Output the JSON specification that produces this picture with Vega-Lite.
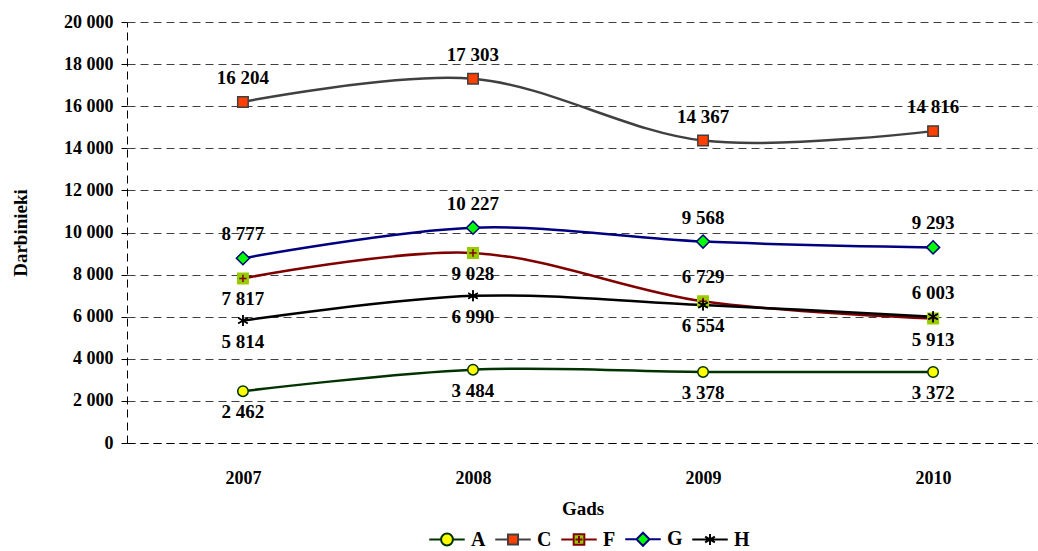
{
  "$schema": "https://vega.github.io/schema/vega-lite/v6.json",
  "width": 911,
  "height": 421,
  "autosize": {"type": "none"},
  "padding": {"left": 127, "top": 22, "right": 0, "bottom": 108},
  "config": {
    "locale": {"number": {"decimal": ",", "thousands": " ", "grouping": [3], "currency": ["", ""]}},
    "view": {"stroke": null},
    "font": "Liberation Serif",
    "background": "#ffffff"
  },
  "data": {
    "values": [
      {"year": "2007", "series": "A", "value": 2462},
      {"year": "2008", "series": "A", "value": 3484},
      {"year": "2009", "series": "A", "value": 3378},
      {"year": "2010", "series": "A", "value": 3372},
      {"year": "2007", "series": "C", "value": 16204},
      {"year": "2008", "series": "C", "value": 17303},
      {"year": "2009", "series": "C", "value": 14367},
      {"year": "2010", "series": "C", "value": 14816},
      {"year": "2007", "series": "F", "value": 7817},
      {"year": "2008", "series": "F", "value": 9028},
      {"year": "2009", "series": "F", "value": 6729},
      {"year": "2010", "series": "F", "value": 5913},
      {"year": "2007", "series": "G", "value": 8777},
      {"year": "2008", "series": "G", "value": 10227},
      {"year": "2009", "series": "G", "value": 9568},
      {"year": "2010", "series": "G", "value": 9293},
      {"year": "2007", "series": "H", "value": 5814},
      {"year": "2008", "series": "H", "value": 6990},
      {"year": "2009", "series": "H", "value": 6554},
      {"year": "2010", "series": "H", "value": 6003}
    ]
  },
  "encoding": {
    "x": {
      "field": "year", "type": "ordinal",
      "scale": {"type": "point", "padding": 0.48, "align": 0.525},
      "axis": {
        "title": "Gads", "labelAngle": 0, "ticks": false,
        "domain": true, "domainColor": "#000000", "domainDash": [8, 5], "domainWidth": 1,
        "labelFont": "Liberation Serif", "labelFontSize": 18, "labelFontWeight": "bold", "labelColor": "#000000",
        "labelPadding": 26,
        "titleFont": "Liberation Serif", "titleFontSize": 19, "titleFontWeight": "bold", "titleColor": "#000000",
        "titlePadding": 12
      }
    },
    "y": {
      "field": "value", "type": "quantitative",
      "scale": {"domain": [0, 20000], "nice": false},
      "axis": {
        "title": "Darbinieki",
        "values": [0, 2000, 4000, 6000, 8000, 10000, 12000, 14000, 16000, 18000, 20000],
        "format": ",d",
        "grid": true, "gridColor": "#404040", "gridDash": [8, 5], "gridWidth": 1,
        "domain": true, "domainColor": "#000000", "domainDash": [8, 5], "domainWidth": 1,
        "ticks": true, "tickSize": 6, "tickColor": "#000000",
        "labelFont": "Liberation Serif", "labelFontSize": 18, "labelFontWeight": "bold", "labelColor": "#000000",
        "labelPadding": 8,
        "titleFont": "Liberation Serif", "titleFontSize": 19, "titleFontWeight": "bold", "titleColor": "#000000",
        "titlePadding": 33
      }
    }
  },
  "layer": [
    {
      "mark": {"type": "line", "interpolate": "cardinal", "strokeWidth": 2.5},
      "encoding": {
        "color": {
          "field": "series", "type": "nominal",
          "scale": {"domain": ["A", "C", "F", "G", "H"], "range": ["#003300", "#404040", "#800000", "#000080", "#000000"]},
          "legend": null
        }
      }
    },
    {
      "mark": {"type": "point", "opacity": 1, "strokeWidth": 1.5, "size": 110},
      "encoding": {
        "shape": {
          "field": "series", "type": "nominal",
          "scale": {"domain": ["A", "C", "F", "G", "H"], "range": ["circle", "square", "square", "M-1.25,0L0,-1.25L1.25,0L0,1.25Z", "M0,-1.05V1.05M-0.9,-0.52L0.9,0.52M-0.9,0.52L0.9,-0.52"]},
          "legend": null
        },
        "fill": {
          "field": "series", "type": "nominal",
          "scale": {"domain": ["A", "C", "F", "G", "H"], "range": ["#FFFF00", "#FF4000", "#99CC00", "#00FF00", "#000000"]},
          "legend": null
        },
        "stroke": {
          "field": "series", "type": "nominal",
          "scale": {"domain": ["A", "C", "F", "G", "H"], "range": ["#003300", "#404040", "#99CC00", "#000080", "#000000"]},
          "legend": null
        }
      }
    },
    {
      "transform": [{"filter": "datum.series == 'F'"}],
      "mark": {"type": "point", "shape": "M-0.7,0H0.7M0,-0.7V0.7", "size": 110, "filled": false, "stroke": "#800000", "strokeWidth": 1.5, "opacity": 1}
    },
    {
      "transform": [{"filter": "datum.series == 'H'"}],
      "mark": {"type": "point", "shape": "M0,-1.05V1.05M-0.9,-0.52L0.9,0.52M-0.9,0.52L0.9,-0.52", "size": 110, "filled": false, "stroke": "#000000", "strokeWidth": 1.5, "opacity": 1}
    },
    {
      "transform": [{"filter": "datum.series == 'C' || datum.series == 'G' || (datum.series == 'F' && datum.year == '2009') || (datum.series == 'H' && datum.year == '2010')"}],
      "mark": {"type": "text", "font": "Liberation Serif", "fontSize": 19, "fontWeight": "bold", "align": "center", "baseline": "middle", "dy": -24, "color": "#000000"},
      "encoding": {"text": {"field": "value", "type": "quantitative", "format": ",d"}}
    },
    {
      "transform": [{"filter": "!(datum.series == 'C' || datum.series == 'G' || (datum.series == 'F' && datum.year == '2009') || (datum.series == 'H' && datum.year == '2010'))"}],
      "mark": {"type": "text", "font": "Liberation Serif", "fontSize": 19, "fontWeight": "bold", "align": "center", "baseline": "middle", "dy": 21, "color": "#000000"},
      "encoding": {"text": {"field": "value", "type": "quantitative", "format": ",d"}}
    },
    {
      "mark": {"type": "point", "opacity": 0, "size": 140},
      "encoding": {
        "shape": {
          "field": "series", "type": "nominal",
          "scale": {"domain": ["A", "C", "F", "G", "H"], "range": [
            "M-3,0H-1M1,0H3M-1,0A1,1 0 1,1 1,0A1,1 0 1,1 -1,0Z",
            "M-3,0H-0.85M0.85,0H3M-0.85,-0.85H0.85V0.85H-0.85Z",
            "M-3,0H-0.9M0.9,0H3M-0.9,-0.9H0.9V0.9H-0.9ZM-0.6,0H0.6M0,-0.6V0.6",
            "M-3,0H-1.1M1.1,0H3M-1.1,0L0,-1.1L1.1,0L0,1.1Z",
            "M-3,0H3M0,-0.95V0.95M-0.82,-0.48L0.82,0.48M-0.82,0.48L0.82,-0.48"
          ]},
          "legend": {
            "title": null, "orient": "none", "legendX": 310, "legendY": 507,
            "direction": "horizontal", "columns": 5, "padding": 0,
            "symbolSize": 140, "symbolStrokeWidth": 2, "symbolOpacity": 1,
            "labelFont": "Liberation Serif", "labelFontSize": 20, "labelFontWeight": "bold", "labelColor": "#000000",
            "labelOffset": 14, "columnPadding": 5
          }
        },
        "fill": {
          "field": "series", "type": "nominal",
          "scale": {"domain": ["A", "C", "F", "G", "H"], "range": ["#FFFF00", "#FF4000", "#99CC00", "#00FF00", "#000000"]}
        },
        "stroke": {
          "field": "series", "type": "nominal",
          "scale": {"domain": ["A", "C", "F", "G", "H"], "range": ["#003300", "#404040", "#800000", "#000080", "#000000"]}
        }
      }
    }
  ],
  "resolve": {"scale": {"shape": "independent", "fill": "independent", "stroke": "independent"}}
}
